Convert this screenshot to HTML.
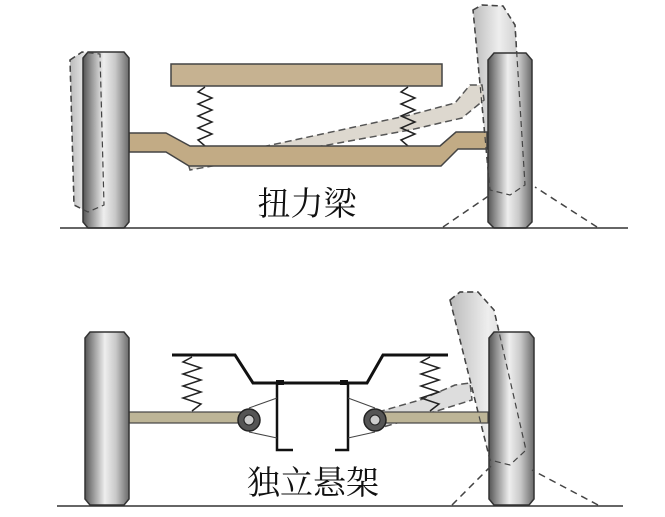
<!DOCTYPE html>
<html><head><meta charset="utf-8"><style>
html,body{margin:0;padding:0;background:#fff;}
svg{display:block;}
text{font-family:"Liberation Serif","Noto Serif CJK SC","Noto Sans CJK SC",serif;}
</style></head><body>
<svg width="665" height="517" viewBox="0 0 665 517" xmlns="http://www.w3.org/2000/svg">
<defs>
<linearGradient id="wg" x1="0" x2="1" y1="0" y2="0">
<stop offset="0" stop-color="#555"/><stop offset="0.15" stop-color="#8a8a8a"/><stop offset="0.45" stop-color="#eee"/><stop offset="0.7" stop-color="#c9c9c9"/><stop offset="1" stop-color="#6a6a6a"/>
</linearGradient>
<linearGradient id="gg" x1="0" x2="1" y1="0" y2="0">
<stop offset="0" stop-color="#bbb"/><stop offset="0.5" stop-color="#eee"/><stop offset="1" stop-color="#c4c4c4"/>
</linearGradient>
</defs>
<rect width="665" height="517" fill="#fff"/>

<!-- ===== TOP ===== -->
<path d="M70 60 L82 52 L100 54 L104 205 L88 212 L74 205 Z" fill="url(#gg)" stroke="#444" stroke-width="1.5" stroke-dasharray="6 4"/>
<path d="M473 10 L482 5 L503 6 L515 25 L525 185 L510 195 L490 190 Z" fill="url(#gg)" stroke="#444" stroke-width="1.5" stroke-dasharray="6 4"/>
<path d="M188 163 L410 115 L455 103 L470 85 L482 85 L484 100 L462 118 L410 130 L190 170 Z" fill="#ddd8cf" stroke="#555" stroke-width="1.5" stroke-dasharray="7 4"/>
<rect x="171" y="64" width="271" height="22" fill="#c6b291" stroke="#444" stroke-width="1.5"/>
<polyline points="205,87 198,92 212,98 198,104 212,110 198,116 212,122 198,128 212,134 198,140 205,146" fill="none" stroke="#222" stroke-width="1.5"/>
<polyline points="408,87 401,92 415,98 401,104 415,110 401,116 415,122 401,128 415,134 401,140 408,146" fill="none" stroke="#222" stroke-width="1.5"/>
<path d="M129 133 L166 133 L190 146 L440 146 L456 132 L487 132 L487 149 L458 149 L441 166 L189 166 L166 152 L129 152 Z" fill="#c2ab85" stroke="#444" stroke-width="1.5"/>
<path d="M83 58 L88 52 L124 52 L129 58 L129 222 L124 228 L88 228 L83 222 Z" fill="url(#wg)" stroke="#333" stroke-width="1.5"/>
<path d="M488 60 L494 53 L526 53 L532 60 L532 222 L526 228 L494 228 L488 222 Z" fill="url(#wg)" stroke="#333" stroke-width="1.5"/>
<path d="M70 60 L82 52 L100 54 L104 205 L88 212 L74 205 Z" fill="none" stroke="#444" stroke-width="1.2" stroke-dasharray="6 4"/>
<path d="M473 10 L482 5 L503 6 L515 25 L525 185 L510 195 L490 190 Z" fill="none" stroke="#444" stroke-width="1.2" stroke-dasharray="6 4"/>
<line x1="443" y1="227" x2="490" y2="195" stroke="#444" stroke-width="1.5" stroke-dasharray="7 5"/>
<line x1="597" y1="227" x2="535" y2="187" stroke="#444" stroke-width="1.5" stroke-dasharray="7 5"/>
<line x1="60" y1="228" x2="628" y2="228" stroke="#333" stroke-width="1.5"/>
<text x="307" y="215" font-size="33" text-anchor="middle" fill="#111">扭力梁</text>

<!-- ===== BOTTOM ===== -->
<path d="M450 300 L460 292 L478 292 L494 310 L526 450 L510 465 L490 460 Z" fill="url(#gg)" stroke="#444" stroke-width="1.5" stroke-dasharray="6 4"/>
<path d="M378 412 L420 400 L455 385 L470 383 L472 400 L440 410 L380 428 Z" fill="#ddd" stroke="#555" stroke-width="1.5" stroke-dasharray="7 4"/>
<polyline points="172,355 235,355 253,383 367,383 383,355 448,355" fill="none" stroke="#111" stroke-width="3"/>
<rect x="276" y="380" width="8" height="5" fill="#111"/>
<rect x="340" y="380" width="8" height="5" fill="#111"/>
<polyline points="293,450 277,450 277,383" fill="none" stroke="#111" stroke-width="2.5"/>
<polyline points="335,450 348,450 348,383" fill="none" stroke="#111" stroke-width="2.5"/>
<line x1="249" y1="408" x2="277" y2="398" stroke="#444" stroke-width="1"/>
<line x1="249" y1="432" x2="277" y2="438" stroke="#444" stroke-width="1"/>
<line x1="375" y1="408" x2="348" y2="398" stroke="#444" stroke-width="1"/>
<line x1="375" y1="432" x2="348" y2="438" stroke="#444" stroke-width="1"/>
<polyline points="192,357 183,362 201,368 183,374 201,380 183,386 201,392 183,398 201,404 192,411" fill="none" stroke="#222" stroke-width="1.5"/>
<polyline points="430,357 421,362 439,368 421,374 439,380 421,386 439,392 421,398 439,404 430,411" fill="none" stroke="#222" stroke-width="1.5"/>
<rect x="129" y="412" width="120" height="11" fill="#bdb597" stroke="#444" stroke-width="1.2"/>
<rect x="375" y="412" width="113" height="11" fill="#bdb597" stroke="#444" stroke-width="1.2"/>
<circle cx="249" cy="420" r="11" fill="#555" stroke="#222" stroke-width="1.5"/>
<circle cx="249" cy="420" r="5" fill="#ccc" stroke="#222"/>
<circle cx="375" cy="420" r="11" fill="#555" stroke="#222" stroke-width="1.5"/>
<circle cx="375" cy="420" r="5" fill="#ccc" stroke="#222"/>
<path d="M85 338 L90 332 L124 332 L129 338 L129 499 L124 505 L90 505 L85 499 Z" fill="url(#wg)" stroke="#333" stroke-width="1.5"/>
<path d="M489 338 L494 332 L529 332 L534 338 L534 499 L529 505 L494 505 L489 499 Z" fill="url(#wg)" stroke="#333" stroke-width="1.5"/>
<path d="M450 300 L460 292 L478 292 L494 310 L526 450 L510 465 L490 460 Z" fill="none" stroke="#444" stroke-width="1.2" stroke-dasharray="6 4"/>
<line x1="452" y1="505" x2="492" y2="465" stroke="#444" stroke-width="1.5" stroke-dasharray="7 5"/>
<line x1="598" y1="505" x2="532" y2="470" stroke="#444" stroke-width="1.5" stroke-dasharray="7 5"/>
<line x1="57" y1="506" x2="623" y2="506" stroke="#333" stroke-width="1.5"/>
<text x="313" y="494" font-size="33" text-anchor="middle" fill="#111">独立悬架</text>
</svg>
</body></html>
